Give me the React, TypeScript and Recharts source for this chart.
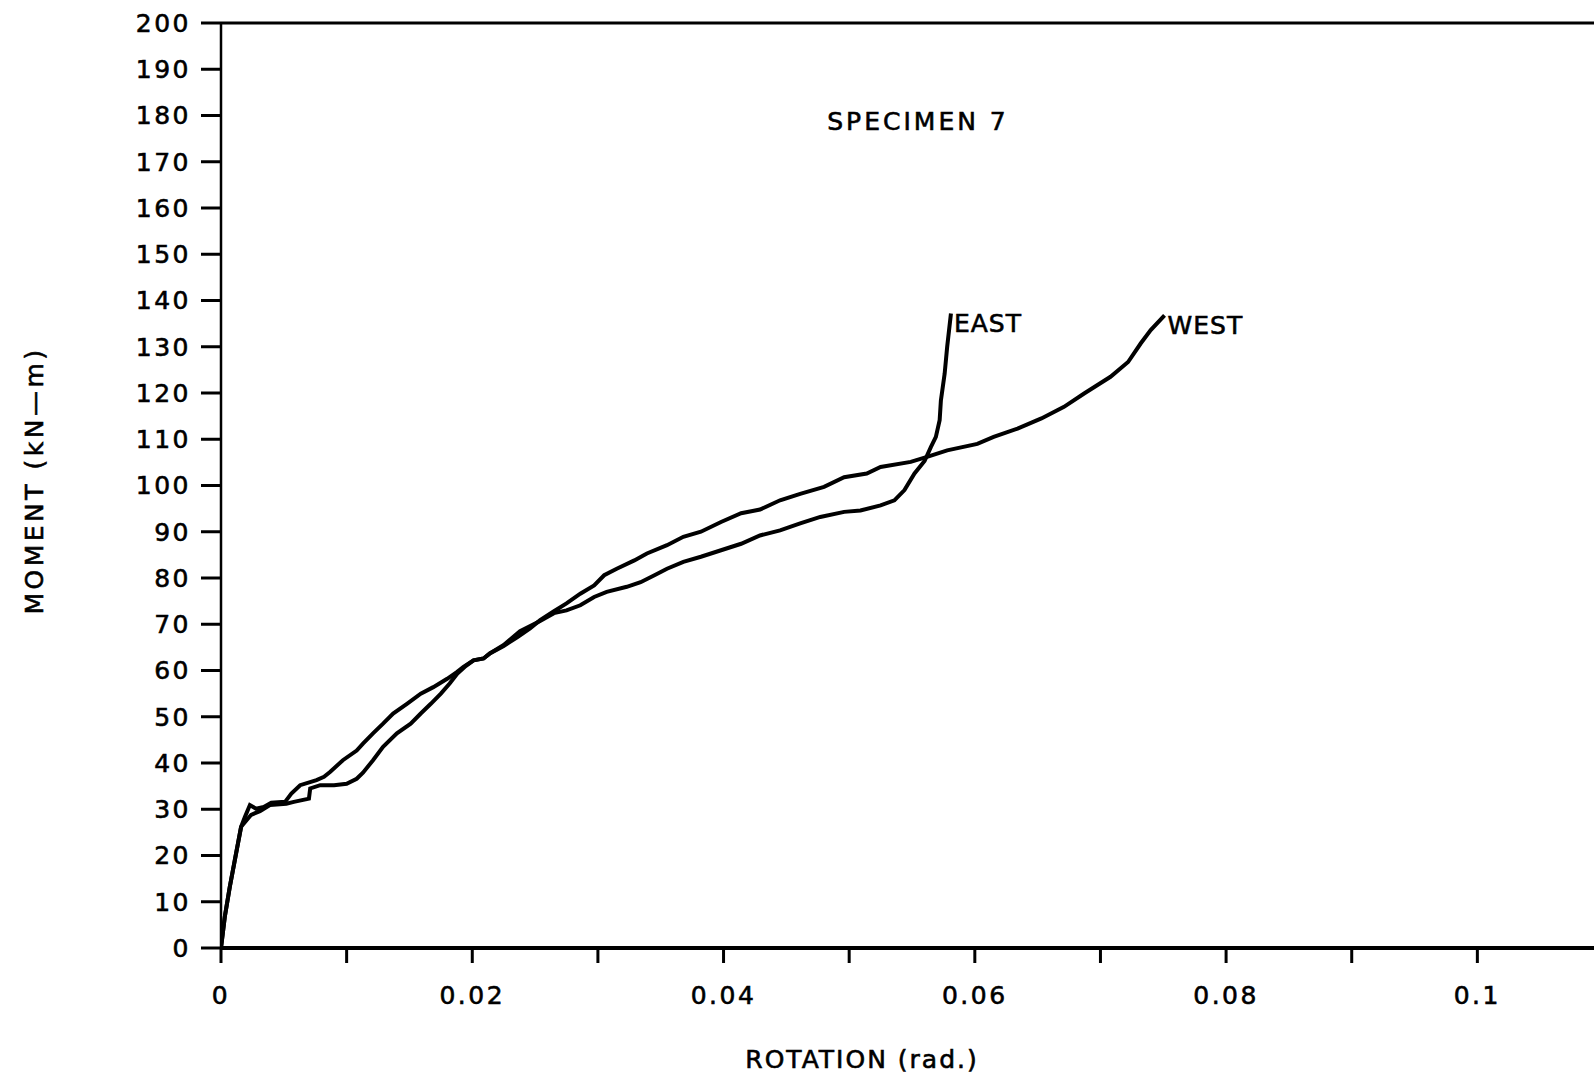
import React from 'react';
import { LineChart, Line, XAxis, YAxis, ReferenceLine, Label } from 'recharts';

// ---- data ----
const eastRotation = [0, 0.0003, 0.0007, 0.0011, 0.0014, 0.0016, 0.002, 0.0024, 0.0031, 0.0039, 0.0052, 0.0058, 0.007, 0.0071, 0.0079, 0.009, 0.01, 0.0108, 0.0113, 0.0121, 0.0129, 0.014, 0.0151, 0.0159, 0.0167, 0.0175, 0.0182, 0.0188, 0.0195, 0.0201, 0.0209, 0.0214, 0.0225, 0.0238, 0.0254, 0.0265, 0.0275, 0.0286, 0.0297, 0.0307, 0.0323, 0.0334, 0.0345, 0.0355, 0.0368, 0.0382, 0.0398, 0.0414, 0.0429, 0.0445, 0.0461, 0.0477, 0.0496, 0.0509, 0.0525, 0.0536, 0.0544, 0.0552, 0.056, 0.0565, 0.0569, 0.0572, 0.0573, 0.0576, 0.0578, 0.0581];
const eastMoment = [0, 6.7, 13.2, 19, 23.3, 26.2, 27.5, 28.8, 29.6, 30.9, 31.2, 31.6, 32.3, 34.5, 35.2, 35.2, 35.5, 36.6, 37.9, 40.6, 43.5, 46.4, 48.5, 50.7, 52.8, 55, 57.2, 59.3, 61, 62.2, 62.6, 63.7, 65.5, 68.5, 70.7, 72.4, 73, 74.1, 75.9, 77, 78.1, 79.1, 80.6, 82, 83.5, 84.6, 86, 87.4, 89.2, 90.3, 91.8, 93.2, 94.3, 94.6, 95.7, 96.8, 99, 102.6, 105.3, 108.3, 110.5, 114.1, 118.4, 124.2, 130, 137.2];

const westRotation = [0, 0.0003, 0.0007, 0.0011, 0.0014, 0.0016, 0.0019, 0.0023, 0.0028, 0.0034, 0.004, 0.0051, 0.0056, 0.0063, 0.0076, 0.0082, 0.0087, 0.0097, 0.0108, 0.0113, 0.0121, 0.0129, 0.0137, 0.0148, 0.0159, 0.0169, 0.018, 0.0188, 0.0193, 0.0201, 0.0209, 0.0214, 0.0225, 0.0236, 0.0246, 0.0254, 0.0265, 0.0275, 0.0286, 0.0297, 0.0305, 0.0315, 0.0329, 0.0339, 0.0355, 0.0368, 0.0382, 0.0398, 0.0414, 0.0429, 0.0445, 0.0461, 0.048, 0.0496, 0.0514, 0.0525, 0.0549, 0.0562, 0.0578, 0.0602, 0.0615, 0.0634, 0.0653, 0.0671, 0.0687, 0.0708, 0.0722, 0.0732, 0.074, 0.0751];
const westMoment = [0, 6.7, 13.2, 19, 23.3, 26.2, 28.3, 30.9, 30.1, 30.5, 31.4, 31.6, 33.4, 35.2, 36.3, 37, 38.1, 40.6, 42.7, 44.2, 46.4, 48.5, 50.7, 52.8, 55, 56.4, 58.2, 59.7, 60.8, 62.2, 62.6, 63.7, 65.3, 67.2, 69.1, 70.9, 72.8, 74.5, 76.6, 78.4, 80.6, 82, 83.8, 85.3, 87.1, 88.9, 90, 92.1, 94, 94.8, 96.8, 98.2, 99.7, 101.8, 102.6, 104, 105.1, 106.2, 107.6, 109, 110.5, 112.3, 114.5, 117, 119.9, 123.5, 126.7, 130.7, 133.6, 136.8];

const xTicks = [0, 0.01, 0.02, 0.03, 0.04, 0.05, 0.06, 0.07, 0.08, 0.09, 0.1];
const xTickLabels = ['0', '', '0.02', '', '0.04', '', '0.06', '', '0.08', '', '0.1'];
const yTicks = [0, 10, 20, 30, 40, 50, 60, 70, 80, 90, 100, 110, 120, 130, 140, 150, 160, 170, 180, 190, 200];

const seriesNames = ['EAST', 'WEST'];
const chartTitle = 'SPECIMEN 7';
const xTitle = 'ROTATION (rad.)';
const yTitle = 'MOMENT (kN\u2014m)';

const eastData = eastRotation.map((x, i) => ({ x, y: eastMoment[i] }));
const westData = westRotation.map((x, i) => ({ x, y: westMoment[i] }));

const FONT = '"DejaVu Sans", Verdana, sans-serif';
const TXT = { fill: '#000', stroke: '#000', strokeWidth: 0.6, fontSize: 25, fontFamily: FONT } as const;

const endLabel = (name: string, len: number) => (props: any) => {
  if (props.index !== len - 1) return <g key={`l${props.index}`} />;
  return (
    <text key={`l${props.index}`} x={props.x + 3} y={props.y + 19} {...TXT} letterSpacing={1} textAnchor="start">
      {name}
    </text>
  );
};

export default function App() {
  return (
    <div style={{ position: 'absolute', left: 0, top: 0, width: 1594, height: 1080, overflow: 'hidden', background: '#fff' }}>
      <style>{`.recharts-cartesian-axis-tick-value { letter-spacing: 2.5px; }`}</style>
      <LineChart width={1603} height={1080} margin={{ top: 23, right: 0, left: 0, bottom: 0 }}>
        <XAxis
          type="number"
          dataKey="x"
          domain={[0, 0.11]}
          allowDataOverflow
          ticks={xTicks}
          tickFormatter={(v: number, i: number) => xTickLabels[i] ?? ''}
          height={132}
          stroke="#000"
          axisLine={{ stroke: '#000', strokeWidth: 4 }}
          tickLine={{ stroke: '#000', strokeWidth: 3 }}
          tickSize={15}
          tickMargin={23}
          tick={{ ...TXT }}
          interval={0}
        >
          <Label
            content={(p: any) => {
              const vb = p.viewBox || { x: 221, y: 948 };
              return (
                <text x={vb.x + 641} y={vb.y + 111} textAnchor="middle" dominantBaseline="central" {...TXT} letterSpacing={2}>
                  {xTitle}
                </text>
              );
            }}
          />
        </XAxis>
        <YAxis
          type="number"
          domain={[0, 200]}
          ticks={yTicks}
          width={221}
          stroke="#000"
          axisLine={{ stroke: '#000', strokeWidth: 2.5 }}
          tickLine={{ stroke: '#000', strokeWidth: 3 }}
          tickSize={20}
          tickMargin={10}
          tick={{ ...TXT }}
          interval={0}
        >
          <Label
            content={(p: any) => {
              const vb = p.viewBox || { x: 0, y: 23, height: 925 };
              const cy = vb.y + vb.height / 2 - 5;
              return (
                <text x={34} y={cy} transform={`rotate(-90 34 ${cy})`} textAnchor="middle" dominantBaseline="central" {...TXT} letterSpacing={3.5}>
                  {yTitle}
                </text>
              );
            }}
          />
        </YAxis>
        <ReferenceLine y={200} stroke="#000" strokeWidth={3} ifOverflow="extendDomain" />
        <Line
          data={eastData}
          dataKey="y"
          name={seriesNames[0]}
          type="linear"
          stroke="#000"
          strokeWidth={4}
          dot={false}
          isAnimationActive={false}
          label={endLabel(seriesNames[0], eastData.length)}
        />
        <Line
          data={westData}
          dataKey="y"
          name={seriesNames[1]}
          type="linear"
          stroke="#000"
          strokeWidth={4}
          dot={false}
          isAnimationActive={false}
          label={endLabel(seriesNames[1], westData.length)}
        />
      </LineChart>
      <div
        style={{
          position: 'absolute',
          left: 918,
          top: 121,
          transform: 'translate(-50%, -50%)',
          fontFamily: FONT,
          fontSize: 25,
          letterSpacing: 3,
          color: '#000',
          WebkitTextStroke: '0.6px #000',
          whiteSpace: 'nowrap',
          lineHeight: 1,
        }}
      >
        {chartTitle}
      </div>
    </div>
  );
}
